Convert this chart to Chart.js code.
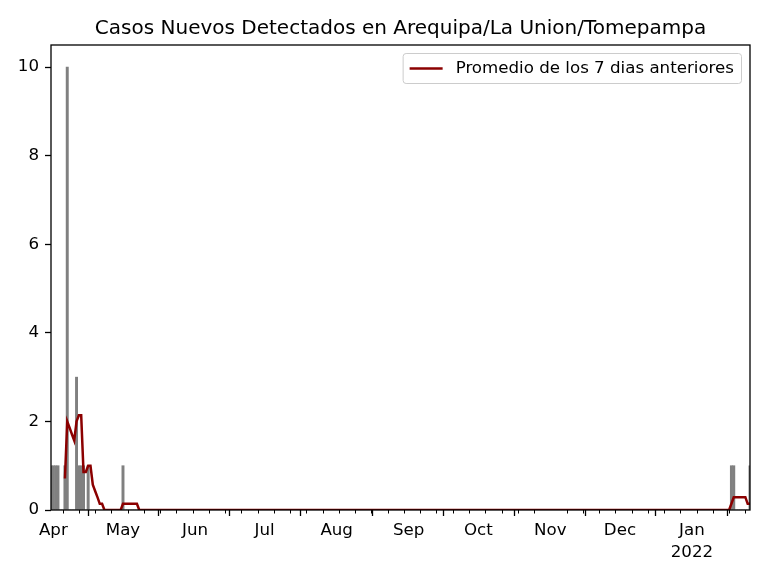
<!DOCTYPE html>
<html>
<head>
<meta charset="utf-8">
<script src="https://cdn.jsdelivr.net/npm/chart.js@4.4.1/dist/chart.umd.min.js"></script>
<style>
  body { margin: 0; background: #fff; }
  #wrap { width: 768px; height: 576px; }
</style>
</head>
<body>
<div id="wrap"><canvas id="grafico" width="768" height="576"></canvas></div>
<script>
// rango de fechas del eje x
const fechaInicio = '2021-03-31';
const fechaFin = '2022-01-26';

// casos nuevos por dia (solo los dias con casos, el resto es 0)
const fechasCasos = ['2021-03-31','2021-04-01','2021-04-02','2021-04-03','2021-04-06','2021-04-07',
  '2021-04-11','2021-04-12','2021-04-13','2021-04-14','2021-04-16','2021-05-01',
  '2022-01-18','2022-01-19','2022-01-26'];
const casosNuevos = [1, 1, 1, 1, 1, 10, 3, 1, 1, 1, 1, 1, 1, 1, 1];

// promedio de los 7 dias anteriores (valores distintos de 0)
const inicioPromedio = '2021-04-06';
const fechasPromedio = ['2021-04-06','2021-04-07','2021-04-08','2021-04-09','2021-04-10','2021-04-11',
  '2021-04-12','2021-04-13','2021-04-14','2021-04-15','2021-04-16','2021-04-17','2021-04-18',
  '2021-04-19','2021-04-20','2021-04-21','2021-04-22',
  '2021-05-01','2021-05-02','2021-05-03','2021-05-04','2021-05-05','2021-05-06','2021-05-07',
  '2022-01-18','2022-01-19','2022-01-20','2022-01-21','2022-01-22','2022-01-23','2022-01-24',
  '2022-01-25','2022-01-26'];
const promedioValores = [0.71, 2.00, 1.86, 1.71, 1.57, 2.00, 2.14, 2.14, 0.86, 0.86, 1.00, 1.00, 0.57,
  0.43, 0.29, 0.14, 0.14,
  0.14, 0.14, 0.14, 0.14, 0.14, 0.14, 0.14,
  0.14, 0.29, 0.29, 0.29, 0.29, 0.29, 0.29,
  0.14, 0.14];

// ticks
const fechasMeses = ['2021-04-01','2021-05-01','2021-06-01','2021-07-01','2021-08-01','2021-09-01',
  '2021-10-01','2021-11-01','2021-12-01','2022-01-01'];
const etiquetasMeses = ['Apr','May','Jun','Jul','Aug','Sep','Oct','Nov','Dec','Jan'];
const etiquetasAnio = ['','','','','','','','','','2022'];
const ticksY = [0, 2, 4, 6, 8, 10];

function utc(s) {
  const [y, m, d] = s.split('-').map(Number);
  return Date.UTC(y, m - 1, d);
}
function diaDe(s) { return Math.round((utc(s) - utc(fechaInicio)) / 86400000); }

const totalDias = diaDe(fechaFin) + 1;
const casos = new Array(totalDias).fill(0);
fechasCasos.forEach((f, i) => { casos[diaDe(f)] = casosNuevos[i]; });
const promedio = new Array(totalDias).fill(null);
for (let i = diaDe(inicioPromedio); i < totalDias; i++) promedio[i] = 0;
fechasPromedio.forEach((f, i) => { promedio[diaDe(f)] = promedioValores[i]; });

const diasMeses = fechasMeses.map(diaDe);
const fuente = '"DejaVu Sans", sans-serif';

// ticks menores (lunes), marco y leyenda
const extras = {
  id: 'extras',
  afterDraw(chart) {
    const ctx = chart.ctx, a = chart.chartArea;
    const sx = chart.scales.x;
    ctx.save();
    ctx.strokeStyle = '#000';
    ctx.lineWidth = 1;
    for (let i = 0; i < totalDias; i++) {
      const dow = new Date(utc(fechaInicio) + i * 86400000).getUTCDay();
      if (dow !== 1 || diasMeses.includes(i)) continue;
      const px = Math.round(sx.getPixelForValue(i)) + 0.5;
      ctx.beginPath();
      ctx.moveTo(px, a.bottom);
      ctx.lineTo(px, a.bottom + 3.5);
      ctx.stroke();
    }
    ctx.lineWidth = 1.3;
    ctx.strokeRect(a.left, a.top, a.right - a.left, a.bottom - a.top);

    const ds = chart.data.datasets[0];
    ctx.font = '16.67px ' + fuente;
    const tw = ctx.measureText(ds.label).width;
    const pad = 7, hl = 33, gap = 13, h = 30;
    const w = pad + hl + gap + tw + pad;
    const x = a.right - 9 - w, y = a.top + 8;
    ctx.beginPath();
    ctx.roundRect(x + 0.5, y + 0.5, w, h, 3);
    ctx.fillStyle = 'rgba(255,255,255,0.8)';
    ctx.fill();
    ctx.lineWidth = 1;
    ctx.strokeStyle = '#cccccc';
    ctx.stroke();
    ctx.beginPath();
    ctx.moveTo(x + pad, y + h / 2 + 0.5);
    ctx.lineTo(x + pad + hl, y + h / 2 + 0.5);
    ctx.strokeStyle = ds.borderColor;
    ctx.lineWidth = 2.5;
    ctx.stroke();
    ctx.fillStyle = '#000';
    ctx.textBaseline = 'middle';
    ctx.fillText(ds.label, x + pad + hl + gap, y + h / 2 + 1);
    ctx.restore();
  }
};

new Chart(document.getElementById('grafico'), {
  type: 'bar',
  data: {
    datasets: [
      {
        type: 'line',
        label: 'Promedio de los 7 dias anteriores',
        data: promedio.map((v, i) => ({ x: i, y: v })),
        borderColor: '#8b0000',
        borderWidth: 2.5,
        pointRadius: 0,
        tension: 0,
        spanGaps: false,
        order: 0
      },
      {
        type: 'bar',
        label: 'Casos nuevos',
        data: casos.map((v, i) => ({ x: i, y: v })),
        backgroundColor: '#808080',
        borderWidth: 0,
        barThickness: 2.3,
        grouped: false,
        order: 1
      }
    ]
  },
  options: {
    responsive: false,
    animation: false,
    devicePixelRatio: 1,
    layout: { padding: { left: 0, right: 18, top: 0, bottom: 0 } },
    plugins: {
      legend: { display: false },
      tooltip: { enabled: false },
      title: {
        display: true,
        fullSize: false,
        text: 'Casos Nuevos Detectados en Arequipa/La Union/Tomepampa',
        color: '#000',
        font: { family: fuente, size: 20, weight: 'normal', lineHeight: 1.2 },
        padding: { top: 17, bottom: 4 }
      }
    },
    scales: {
      x: {
        type: 'linear',
        min: 0,
        max: totalDias - 1,
        offset: false,
        afterFit(s) { s.height = 66; },
        afterBuildTicks(s) { s.ticks = diasMeses.map(v => ({ value: v })); },
        grid: { drawOnChartArea: false, drawTicks: true, tickLength: 6, tickColor: '#000', tickWidth: 1.3 },
        border: { display: false },
        ticks: {
          autoSkip: false,
          maxRotation: 0,
          padding: 4,
          color: '#000',
          font: { family: fuente, size: 16.67, lineHeight: 1.3 },
          callback: (v, i) => etiquetasAnio[i] ? [etiquetasMeses[i], etiquetasAnio[i]] : etiquetasMeses[i]
        }
      },
      y: {
        min: 0,
        max: 10.5,
        afterFit(s) { s.width = 51; },
        afterBuildTicks(s) { s.ticks = ticksY.map(v => ({ value: v })); },
        grid: { drawOnChartArea: false, drawTicks: true, tickLength: 6, tickColor: '#000', tickWidth: 1.3 },
        border: { display: false },
        ticks: {
          padding: 6,
          color: '#000',
          font: { family: fuente, size: 16.67 }
        }
      }
    }
  },
  plugins: [extras]
});
</script>
</body>
</html>
